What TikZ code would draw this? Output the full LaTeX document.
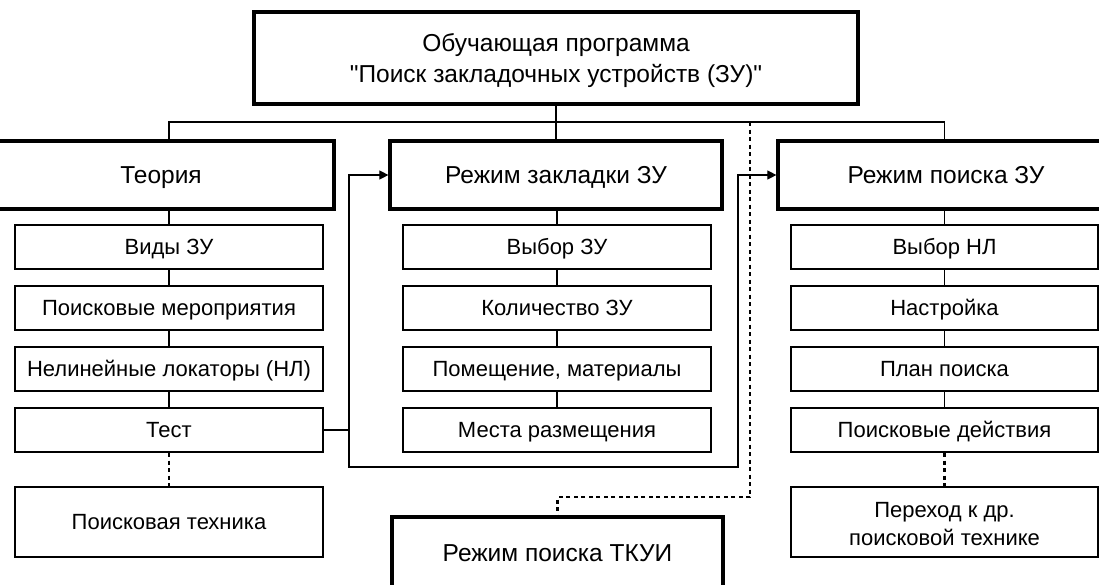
\documentclass[tikz,border=0pt]{standalone}
\usepackage{fontspec}
\setmainfont{Liberation Sans}[Ligatures=TeXOff]
\usetikzlibrary{arrows.meta,calc}
\begin{document}
\begin{tikzpicture}[x=1pt,y=-1pt,
  every node/.style={font=\fontsize{22}{28}\selectfont, align=center, inner sep=0pt},
  one/.style={text height=15.8pt, text depth=0pt},
  big/.style={font=\fontsize{24.5}{31}\selectfont},
  hdr/.style={draw, big, one, text height=17.5pt, line width=3.2pt, minimum height=68pt},
  sub/.style={draw, one, line width=2.2pt, minimum width=308pt, minimum height=44pt},
  bot/.style={draw, line width=2.2pt, minimum width=308pt, minimum height=70pt},
  link/.style={line width=1.8pt},
  dotl/.style={line width=2.2pt, dash pattern=on 4pt off 3.5pt},
  thin/.style={line width=1.1pt},
  arr/.style={thin, -{Triangle[length=9pt,width=9pt]}}
]
\useasboundingbox (0,0) rectangle (1099,584);
\clip (0,0) rectangle (1099,584);
% top
\node[draw, line width=3.2pt, minimum width=604pt, minimum height=92pt,
  label={[big, yshift=-3pt]center:Обучающая программа\\"Поиск закладочных устройств (ЗУ)"}] (top) at (556,58) {};
% headers
\node[hdr, minimum width=346pt] (theory) at (161,175) {Теория};
\node[hdr, minimum width=332pt] (mode1) at (556,175) {Режим закладки ЗУ};
\node[hdr, minimum width=336pt] (mode2) at (946,175) {Режим поиска ЗУ};
% left column
\node[sub] (l1) at (169,247) {Виды ЗУ};
\node[sub] (l2) at (169,308) {Поисковые мероприятия};
\node[sub] (l3) at (169,369) {Нелинейные локаторы (НЛ)};
\node[sub] (l4) at (169,430) {Тест};
\node[bot, one] (l5) at (169,522) {Поисковая техника};
% middle column
\node[sub] (m1) at (557,247) {Выбор ЗУ};
\node[sub] (m2) at (557,308) {Количество ЗУ};
\node[sub] (m3) at (557,369) {Помещение, материалы};
\node[sub] (m4) at (557,430) {Места размещения};
\node[draw, big, one, text height=17.5pt, line width=3.2pt, minimum width=331pt, minimum height=72pt] (tkui) at (557.5,553) {Режим поиска ТКУИ};
% right column
\node[sub, minimum width=307pt] (r1) at (944.5,247) {Выбор НЛ};
\node[sub, minimum width=307pt] (r2) at (944.5,308) {Настройка};
\node[sub, minimum width=307pt] (r3) at (944.5,369) {План поиска};
\node[sub, minimum width=307pt] (r4) at (944.5,430) {Поисковые действия};
\node[bot, minimum width=307pt, label={[yshift=-2pt]center:Переход к др.\\поисковой технике}] (r5) at (944.5,522) {};
% bus
\coordinate (bus) at (556,122);
\draw[link] (top.south) -- (mode1.north);
\draw[link] (l1.north |- theory.north) -- (l1.north |- bus) -- (r1.north |- bus) -- (r1.north |- mode2.north);
% column chains
\foreach \h/\a/\b/\c/\d in {theory/l1/l2/l3/l4, mode1/m1/m2/m3/m4, mode2/r1/r2/r3/r4}{
  \draw[link] (\a.north |- \h.south) -- (\a.north);
  \draw[link] (\a.south) -- (\b.north);
  \draw[link] (\b.south) -- (\c.north);
  \draw[link] (\c.south) -- (\d.north);
}
\draw[dotl] (l4.south) -- (l5.north);
\draw[dotl] (r4.south) -- (r5.north);
% dotted to TKUI
\coordinate (d1) at (750,122);
\coordinate (d2) at (750,497);
\draw[dotl] (d1) -- (d2) -| (tkui.north);
% test arrows
\coordinate (j) at (349,430);
\coordinate (jb) at (349,467);
\coordinate (jr) at (738,467);
\draw[thin] (l4.east) -- (j);
\draw[arr] (j) |- (mode1.west);
\draw[arr] (j) -- (jb) -- (jr) |- (mode2.west);
\end{tikzpicture}
\end{document}
